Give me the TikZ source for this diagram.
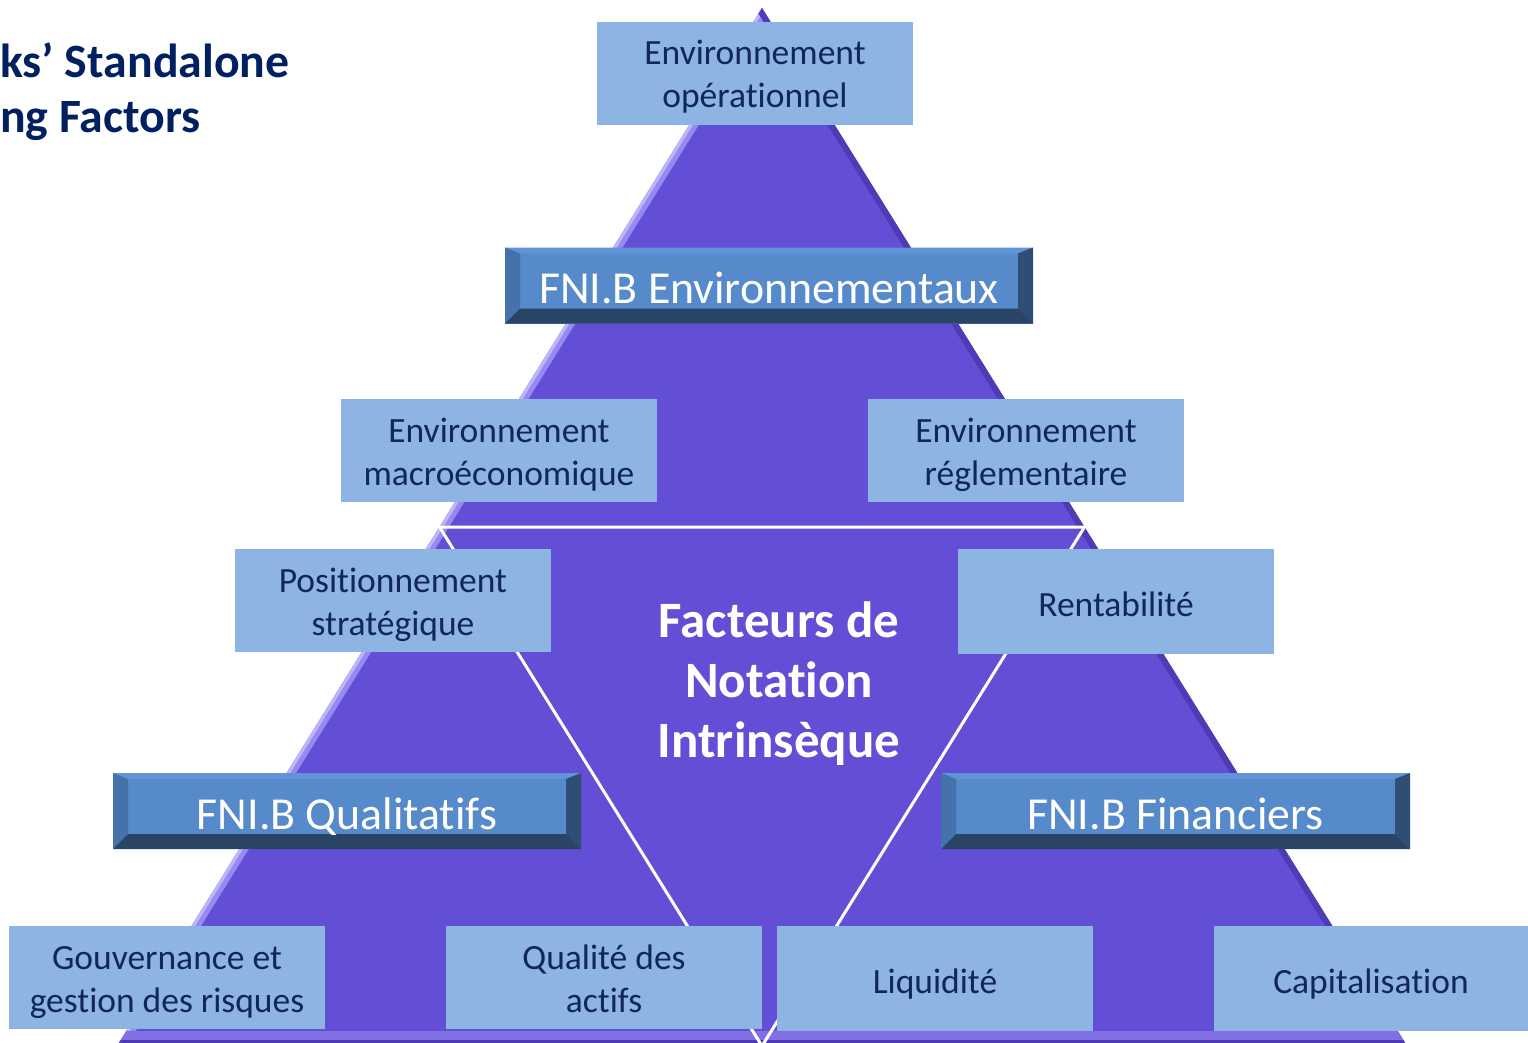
\documentclass[tikz,border=0pt]{standalone}
\usepackage{fontspec}
\setmainfont{Carlito}[Ligatures=NoCommon]
\usetikzlibrary{calc}
\definecolor{pyr}{RGB}{99,78,214}
\definecolor{pyrlight}{RGB}{150,138,240}
\definecolor{pyrpale}{RGB}{190,182,250}
\definecolor{pyrdark}{RGB}{78,60,180}
\definecolor{pyrbase}{RGB}{128,112,228}
\definecolor{boxblue}{RGB}{142,180,227}
\definecolor{navy}{RGB}{16,38,92}
\definecolor{titlenavy}{RGB}{0,32,96}
\definecolor{bface}{RGB}{86,138,203}
\definecolor{btop}{RGB}{96,148,214}
\definecolor{bleft}{RGB}{70,114,172}
\definecolor{bright}{RGB}{46,78,118}
\definecolor{bbottom}{RGB}{42,68,102}
% fixed line extents so the labels sit at the same height in every box
\newcommand\hiStrut{\rule{0pt}{34pt}}
\newcommand\oneStrut{\rule{0pt}{37pt}}
\newcommand\loStrut{\rule[-8pt]{0pt}{8pt}}
\tikzset{
  infobox/.style={rectangle, fill=boxblue, text=navy, align=center,
    inner sep=0pt, minimum width=316pt, minimum height=103pt,
    font=\fontsize{35.5}{43}\selectfont},
  banner/.style={rectangle, fill=bface, text=white, inner sep=0pt,
    minimum height=76pt, text height=36pt, text depth=0pt,
    font=\fontsize{45.8}{50}\selectfont,
    path picture={
      \coordinate (nw) at (path picture bounding box.north west);
      \coordinate (ne) at (path picture bounding box.north east);
      \coordinate (sw) at (path picture bounding box.south west);
      \coordinate (se) at (path picture bounding box.south east);
      \fill[btop] (nw) -- (ne) -- ([shift={(-15pt,-6pt)}]ne) -- ([shift={(15pt,-6pt)}]nw) -- cycle;
      \fill[bleft] (nw) -- ([shift={(15pt,-6pt)}]nw) -- ([shift={(15pt,15pt)}]sw) -- (sw) -- cycle;
      \fill[bright] (ne) -- ([shift={(-15pt,-6pt)}]ne) -- ([shift={(-15pt,15pt)}]se) -- (se) -- cycle;
      \fill[bbottom] (sw) -- ([shift={(15pt,15pt)}]sw) -- ([shift={(-15pt,15pt)}]se) -- (se) -- cycle;
    }},
  edgeline/.style={draw=white, line width=3pt, line join=miter},
  titletext/.style={anchor=base west, text=titlenavy, inner sep=0pt,
    font=\fontsize{47.8}{55}\bfseries\selectfont}
}
\begin{document}
\begin{tikzpicture}[x=1pt,y=-1pt]
\useasboundingbox (0,0) rectangle (1528,1043);
\fill[white] (0,0) rectangle (1528,1043);

% pyramid corners and the midpoints of its sides
\coordinate (apex) at (762,8);
\coordinate (bl) at (117,1046);
\coordinate (br) at (1407,1046);
\coordinate (ml) at ($(apex)!0.5!(bl)$);
\coordinate (mr) at ($(apex)!0.5!(br)$);
\coordinate (mb) at ($(bl)!0.5!(br)$);

% pyramid body with bevelled edges
\begin{scope}
  \clip (0,0) rectangle (1528,1043);
  \fill[pyr] (apex) -- (bl) -- (br) -- cycle;
  \begin{scope}
    \clip (apex) -- (bl) -- (br) -- cycle;
    \draw[pyrlight, line width=16pt] (apex) -- (bl);
    \draw[pyrpale, line width=6pt] (apex) -- (bl);
    \draw[pyrdark, line width=12pt] (apex) -- (br);
    \fill[pyrbase] (0,1031) rectangle (1528,1040);
    \fill[pyrdark] (0,1040) rectangle (1528,1046);
  \end{scope}
\end{scope}

% inner inverted triangle
\draw[edgeline] (ml) -- (mr) -- (mb) -- cycle;

% heading
\node[titletext] (t1) at (0,78) {ks’ Standalone};
\node[titletext] (t2) at (0,133) {ng Factors};

% centre label
\node[text=white, align=center, inner sep=0pt,
  font=\fontsize{51}{60}\bfseries\selectfont] (core) at (779,684)
  {Facteurs de\\Notation\\Intrinsèque};

% factor groups
\node[banner, minimum width=528pt] (benv) at (769,285.5) {FNI.B Environnementaux};
\node[banner, minimum width=468pt] (bqual) at (347,811) {FNI.B Qualitatifs};
\node[banner, minimum width=469pt] (bfin) at (1175.5,811) {FNI.B Financiers};

% individual factors
\node[infobox] (envop) at (755,73.5) {\hiStrut Environnement\\opérationnel\loStrut};
\node[infobox] (envmac) at (499,450.5) {\hiStrut Environnement\\macroéconomique\loStrut};
\node[infobox] (envreg) at (1026,450.5) {\hiStrut Environnement\\réglementaire\loStrut};
\node[infobox] (posit) at (393,600.5) {\hiStrut Positionnement\\stratégique\loStrut};
\node[infobox, minimum height=105pt] (rent) at (1116,601.5) {\oneStrut Rentabilité\loStrut};
\node[infobox] (gouv) at (167,977.5) {\hiStrut Gouvernance et\\gestion des risques\loStrut};
\node[infobox] (qual) at (604,977.5) {\hiStrut Qualité des\\actifs\loStrut};
\node[infobox, minimum height=105pt] (liq) at (935,978.5) {\oneStrut Liquidité\loStrut};
\node[infobox, minimum height=105pt, minimum width=314pt] (cap) at (1371,978.5) {\oneStrut Capitalisation\loStrut};
\end{tikzpicture}
\end{document}
